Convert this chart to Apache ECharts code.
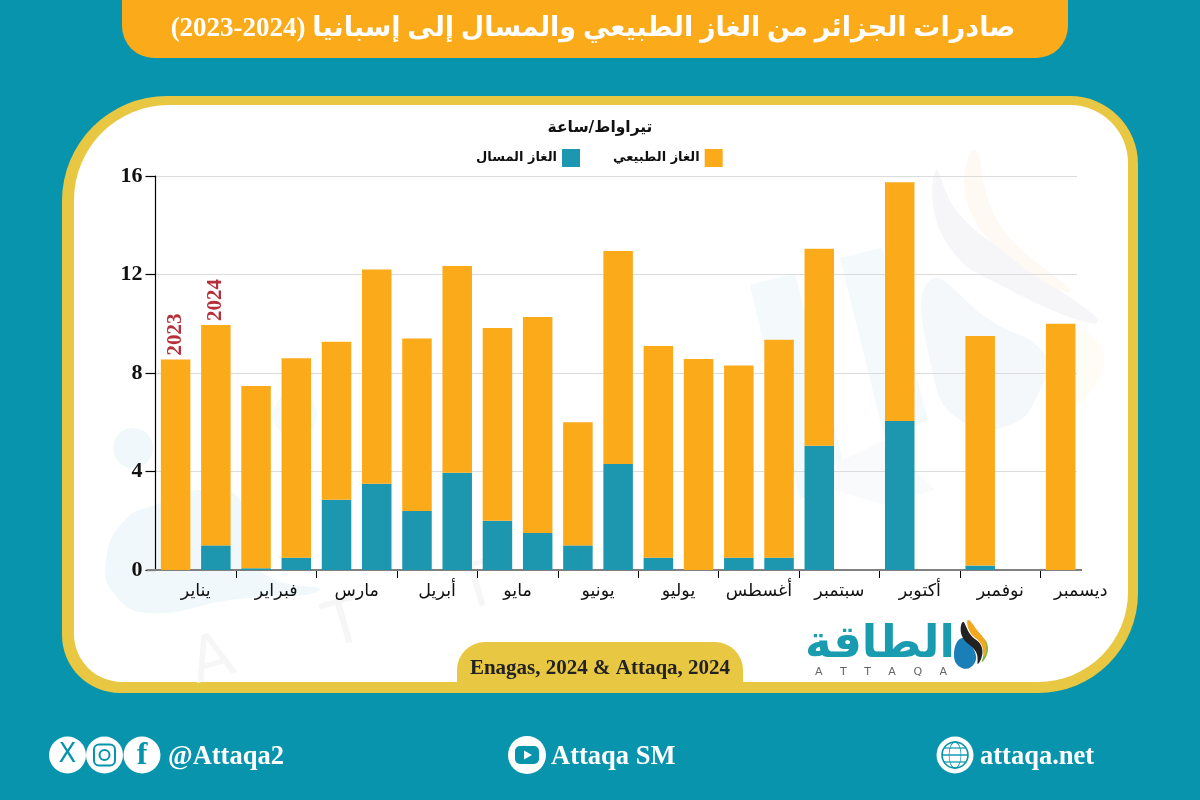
<!DOCTYPE html>
<html><head><meta charset="utf-8">
<style>html,body{margin:0;padding:0;background:#0894ac}#c{width:1200px;height:800px}</style>
<script src="https://cdn.jsdelivr.net/npm/echarts@6/dist/echarts.min.js"></script>
</head><body><div id="c"></div>
<script>
const barCategories = ['يناير 2023','يناير 2024','فبراير 2023','فبراير 2024','مارس 2023','مارس 2024','أبريل 2023','أبريل 2024','مايو 2023','مايو 2024','يونيو 2023','يونيو 2024','يوليو 2023','يوليو 2024','أغسطس 2023','أغسطس 2024','سبتمبر 2023','سبتمبر 2024','أكتوبر 2023','أكتوبر 2024','نوفمبر 2023','نوفمبر 2024','ديسمبر 2023','ديسمبر 2024'];
const months = ['يناير','فبراير','مارس','أبريل','مايو','يونيو','يوليو','أغسطس','سبتمبر','أكتوبر','نوفمبر','ديسمبر'];
const lngValues = [0,1.0,0.07,0.5,2.85,3.5,2.4,3.95,2.0,1.5,1.0,4.3,0.5,0,0.5,0.5,5.05,null,6.05,null,0.18,null,0,null];
const pipelineValues = [8.55,8.95,7.4,8.1,6.42,8.7,7.0,8.4,7.83,8.77,5.0,8.65,8.6,8.57,7.8,8.85,8.0,null,9.7,null,9.32,null,10.0,null];
const yearLabels = ['2023','2024'];

const SERIF = '"Liberation Serif", serif';
const AR = '"DejaVu Sans", "Noto Sans", sans-serif';
const MIX = '"Liberation Serif", "DejaVu Sans", serif';
const TEAL = '#0894ac', YELLOW = '#e8c742', ORANGE = '#fbaa1a', BAR = '#1d97b0';
const blob = (pts, fill, z, smooth) => ({type:'polygon', z:z, shape:{points:pts, smooth:smooth===undefined?0.5:smooth}, style:{fill:fill}});
const wm = (t, x, y) => ({type:'text', z:-8, x:x, y:y, rotation:0.28, style:{text:t, fill:'#f6f6f6', font:'62px '+AR, align:'center', verticalAlign:'middle'}});

const bg = [
  {type:'rect', z:-10, shape:{x:62,y:96,width:1076,height:597,r:[105,68,100,58]}, style:{fill:YELLOW}},
  {type:'rect', z:-9, shape:{x:74,y:105,width:1054,height:577,r:[95,58,90,48]}, style:{fill:'#ffffff'}},
  // watermark
  {type:'circle', z:-8, shape:{cx:133,cy:448,r:20}, style:{fill:'#f1f8fb'}},
  {type:'circle', z:-8, shape:{cx:295,cy:415,r:22}, style:{fill:'#f5fafc'}},
  blob([[106,560],[125,520],[155,505],[200,490],[240,500],[260,570],[320,590],[230,600],[150,613],[115,595]], '#f1f8fb', -8),
  blob([[750,285],[795,273],[845,470],[800,500]], '#f4fafc', -8, 0),
  blob([[840,258],[882,248],[928,420],[885,440]], '#f4fafc', -8, 0),
  blob([[800,480],[885,440],[935,490],[885,505]], '#f8fafb', -8, 0),
  blob([[936,170],[945,240],[1010,290],[1098,322],[1020,262],[960,215]], '#f6f6f8', -8),
  blob([[975,150],[968,205],[1020,265],[1070,290],[1000,225]], '#fef9f3', -8),
  blob([[930,280],[932,370],[960,420],[1010,425],[1040,390],[1045,355],[990,320]], '#f5f8fb', -8),
  blob([[1060,330],[1100,345],[1095,385],[1060,410]], '#fffcf6', -8),
  wm('A', 213, 662), wm('T', 345, 627), wm('T', 478, 590),
  // title and source pills
  {type:'rect', z:-5, shape:{x:122,y:-40,width:946,height:98,r:32}, style:{fill:ORANGE}},
  {type:'rect', z:-5, shape:{x:457,y:642,width:286,height:45,r:[28,28,0,0]}, style:{fill:YELLOW}},
  // x axis base line
  {type:'line', z:3, shape:{x1:146.5,y1:570,x2:1082,y2:570}, style:{stroke:'#808080',lineWidth:2}},
  // logo
  {type:'text', x:880, y:645, style:{text:'الطاقة', fill:'#1a9cb0', font:'bold 45px '+AR, align:'center', verticalAlign:'middle'}},
  {type:'text', x:881, y:672, style:{text:'A     T     T     A     Q     A', fill:'#666', font:'11px '+AR, align:'center', verticalAlign:'middle'}},
  blob([[962,638],[954,655],[962,668],[974,664],[974,650]], '#1a7fb8', 1),
  blob([[963,622],[962,636],[976,652],[978,664],[982,648],[970,634]], '#222222', 2),
  blob([[968,620],[970,632],[981,644],[984,656],[986,644],[977,630]], '#f3a71e', 3),
  blob([[972,628],[977,636],[984,646],[982,662],[988,648],[980,634]], '#7db843', 2),
  // footer
  {type:'circle', shape:{cx:67.5,cy:755,r:18.5}, style:{fill:'#fff'}},
  {type:'text', x:67.5, y:755, style:{text:'X', fill:TEAL, font:'26px '+AR, align:'center', verticalAlign:'middle'}},
  {type:'circle', shape:{cx:104.5,cy:755,r:18.5}, style:{fill:'#fff'}},
  {type:'rect', shape:{x:94,y:744.5,width:21,height:21,r:5}, style:{fill:'#fff',stroke:TEAL,lineWidth:2}},
  {type:'circle', shape:{cx:104.5,cy:755,r:5}, style:{fill:'#fff',stroke:TEAL,lineWidth:2}},
  {type:'circle', shape:{cx:142,cy:755,r:18.5}, style:{fill:'#fff'}},
  {type:'text', x:142, y:756, style:{text:'f', fill:TEAL, font:'bold 32px '+SERIF, align:'center', verticalAlign:'middle'}},
  {type:'text', x:168, y:757, style:{text:'@Attaqa2', fill:'#fff', font:'bold 26.5px '+SERIF, align:'left', verticalAlign:'middle'}},
  {type:'circle', shape:{cx:527,cy:755,r:19}, style:{fill:'#fff'}},
  {type:'rect', shape:{x:515,y:746,width:24,height:18,r:5}, style:{fill:TEAL}},
  {type:'polygon', shape:{points:[[524,750.5],[524,759.5],[532,755]]}, style:{fill:'#fff'}},
  {type:'text', x:551, y:757, style:{text:'Attaqa SM', fill:'#fff', font:'bold 26.5px '+SERIF, align:'left', verticalAlign:'middle'}},
  {type:'circle', shape:{cx:955,cy:755,r:18.5}, style:{fill:'#fff'}},
  {type:'circle', shape:{cx:955,cy:755,r:13}, style:{fill:'none',stroke:TEAL,lineWidth:1.6}},
  {type:'circle', x:955, y:755, scaleX:0.46, shape:{cx:0,cy:0,r:13}, style:{fill:'none',stroke:TEAL,lineWidth:1.4}},
  {type:'line', shape:{x1:942,y1:755,x2:968,y2:755}, style:{stroke:TEAL,lineWidth:1.4}},
  {type:'line', shape:{x1:944,y1:748,x2:966,y2:748}, style:{stroke:TEAL,lineWidth:1.2}},
  {type:'line', shape:{x1:944,y1:762,x2:966,y2:762}, style:{stroke:TEAL,lineWidth:1.2}},
  {type:'text', x:980, y:757, style:{text:'attaqa.net', fill:'#fff', font:'bold 26.5px '+SERIF, align:'left', verticalAlign:'middle'}}
];

const chart = echarts.init(document.getElementById('c'), null, {renderer:'canvas', width:1200, height:800});
chart.setOption({
  animation:false,
  backgroundColor:TEAL,
  graphic:{elements:bg},
  title:[
    {text:'صادرات الجزائر من الغاز الطبيعي والمسال إلى إسبانيا (2024-2023)\u200F', left:593, top:29, padding:0, textAlign:'center', textVerticalAlign:'middle',
      textStyle:{fontFamily:MIX, fontWeight:'bold', fontSize:27, color:'#ffffff'}},
    {text:'تيراواط/ساعة', left:600, top:128, padding:0, textAlign:'center', textVerticalAlign:'middle',
      textStyle:{fontFamily:AR, fontWeight:'bold', fontSize:15.5, color:'#111'}},
    {text:'Enagas, 2024 & Attaqa, 2024', left:600, top:669, padding:0, textAlign:'center', textVerticalAlign:'middle',
      textStyle:{fontFamily:SERIF, fontWeight:'bold', fontSize:21, color:'#222'}}
  ],
  legend:{
    data:['الغاز المسال','الغاز الطبيعي'], left:476, top:149, padding:0, align:'right', itemWidth:18, itemHeight:18, itemGap:33, icon:'rect',
    textStyle:{fontFamily:AR, fontWeight:'bold', fontSize:13, color:'#111'}
  },
  grid:[
    {left:155.5, top:176, width:921.5, height:394},
    {left:155.5, top:176, width:965.5, height:394}
  ],
  yAxis:[
    {type:'value', gridIndex:0, min:0, max:16, interval:4,
      axisLine:{show:true, lineStyle:{color:'#000', width:1.2}},
      axisTick:{show:true, length:10, lineStyle:{color:'#000', width:1.2}},
      axisLabel:{margin:13, fontFamily:SERIF, fontWeight:'bold', fontSize:22, color:'#111'},
      splitLine:{show:true, lineStyle:{color:'#dcdcdc', width:1}}},
    {type:'value', gridIndex:1, min:0, max:16, interval:4, show:false, splitLine:{show:false}}
  ],
  xAxis:[
    {type:'category', gridIndex:0, data:barCategories, show:false},
    {type:'category', gridIndex:1, data:barCategories, show:false, boundaryGap:true},
    {type:'value', gridIndex:1, min:0, max:12, interval:1, position:'bottom',
      axisLine:{show:false},
      splitLine:{show:false},
      axisTick:{show:true, length:8, inside:false, lineStyle:{color:'#000', width:1}, customValues:[1,2,3,4,5,6,7,8,9,10,11]},
      axisLabel:{show:true, margin:12, fontFamily:AR, fontSize:17.5, color:'#111',
        customValues:months.map((m,i)=>i+0.5), formatter:v=>months[Math.floor(v)]}}
  ],
  series:[
    {name:'الغاز المسال', type:'bar', stack:'t', xAxisIndex:1, yAxisIndex:1, barWidth:29.5, data:lngValues, itemStyle:{color:BAR}, z:4},
    {name:'الغاز الطبيعي', type:'bar', stack:'t', xAxisIndex:1, yAxisIndex:1, barWidth:29.5, data:pipelineValues, itemStyle:{color:ORANGE}, z:4,
      label:{show:true, position:'top', rotate:90, distance:4, align:'left', verticalAlign:'middle', fontFamily:SERIF, fontWeight:'bold', fontSize:21, color:'#b5303a',
        formatter:p=>p.dataIndex<yearLabels.length?yearLabels[p.dataIndex]:''}}
  ]
});
</script></body></html>
